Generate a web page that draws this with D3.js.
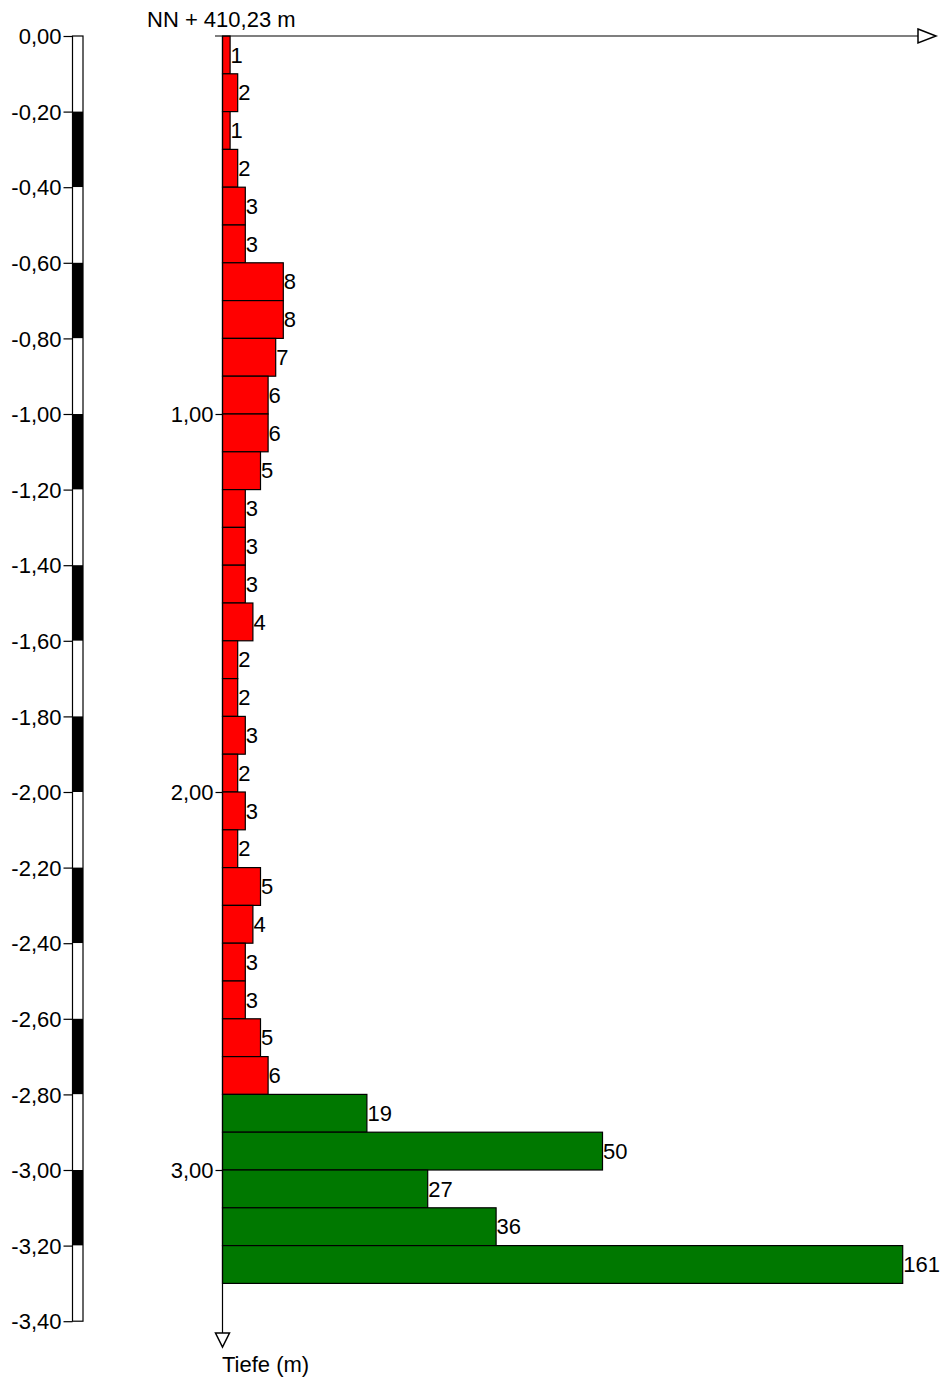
<!DOCTYPE html>
<html><head><meta charset="utf-8">
<script src="https://cdn.jsdelivr.net/npm/d3@7"></script>
<style>body{margin:0;background:#fff}svg{display:block}text{font-family:"Liberation Sans",Arial,sans-serif}</style>
</head><body><svg id="c" width="943" height="1377"></svg>
<script>
const redValues = [1,2,1,2,3,3,8,8,7,6,6,5,3,3,3,4,2,2,3,2,3,2,5,4,3,3,5,6];
const greenValues = [19,50,27,36,161];
const binSize = 0.1;
const scaleTicks = d3.range(0, 3.4001, 0.2);
const depthTicks = [1, 2, 3];
const datumLabel = "NN + 410,23 m";
const axisTitle = "Tiefe (m)";
const FS = 22;

const bars = redValues.map((v,i)=>({top:i*binSize, v, c:"#ff0000"}))
  .concat(greenValues.map((v,i)=>({top:(redValues.length+i)*binSize, v, c:"#007800"})));

const svg = d3.select("#c");
const y = d3.scaleLinear().domain([0, 3.4]).range([36, 36+3.4*378]);
const x = d3.scaleLinear().domain([0, 89.5]).range([222.5, 902.7]).clamp(true);
const fmt = d => d3.format(".2f")(d).replace(".", ",");

// left scale strip
const strip = svg.append("g");
const segs = d3.range(0, 17).map(i=>({a:i*0.2, b:(i+1)*0.2, black:i%2===1}));
strip.selectAll("rect").data(segs).join("rect")
  .attr("x", 72.5).attr("width", 10.5)
  .attr("y", d=>y(d.a)).attr("height", d=>y(d.b)-y(d.a))
  .attr("fill", d=>d.black?"#000":"#fff");
strip.append("rect").attr("x",72.5).attr("width",10.5).attr("y",y(0)).attr("height",y(3.4)-y(0))
  .attr("fill","none").attr("stroke","#000").attr("stroke-width",1.2);
const la = d3.axisLeft(y).tickValues(scaleTicks).tickFormat(d=> d===0 ? "0,00" : "-"+fmt(d)).tickSize(9).tickPadding(2);
const lg = svg.append("g").attr("transform","translate(72.5,0)").call(la);
lg.select(".domain").remove();
lg.selectAll("text").attr("font-size",FS).attr("fill","#000").attr("font-family","Liberation Sans, Arial, sans-serif").attr("dy","0.35em");
lg.selectAll("line").attr("stroke","#000").attr("stroke-width",1.2);

// bars
svg.append("g").selectAll("rect").data(bars).join("rect")
  .attr("x", x(0)).attr("y", d=>y(d.top))
  .attr("width", d=>x(d.v)-x(0)).attr("height", d=>y(d.top+binSize)-y(d.top))
  .attr("fill", d=>d.c).attr("stroke","#000").attr("stroke-width",1.2);
svg.append("g").selectAll("text").data(bars).join("text")
  .attr("x", d=>x(d.v)+0.5).attr("y", d=>y(d.top+binSize/2))
  .attr("dy","0.35em").attr("font-size",FS).attr("fill","#000")
  .text(d=>d.v);

// depth axis
const da = d3.axisLeft(y).tickValues(depthTicks).tickFormat(fmt).tickSize(7).tickPadding(2);
const dg = svg.append("g").attr("transform","translate(222.5,0)").call(da);
dg.select(".domain").remove();
dg.selectAll("text").attr("font-size",FS).attr("fill","#000").attr("font-family","Liberation Sans, Arial, sans-serif").attr("dy","0.35em");
dg.selectAll("line").attr("stroke","#000").attr("stroke-width",1.2);

// axis lines with arrows
svg.append("line").attr("x1",222.5).attr("x2",222.5).attr("y1",36).attr("y2",1333).attr("stroke","#000").attr("stroke-width",1.2);
svg.append("path").attr("d","M215.5,1333 L229.5,1333 L222.5,1347 Z").attr("fill","#fff").attr("stroke","#000").attr("stroke-width",1.5);
svg.append("line").attr("x1",215).attr("x2",918).attr("y1",36).attr("y2",36).attr("stroke","#000").attr("stroke-width",1.2);
svg.append("path").attr("d","M918,29 L936,36 L918,43 Z").attr("fill","#fff").attr("stroke","#000").attr("stroke-width",1.5);

svg.append("text").attr("x",147).attr("y",27).attr("font-size",FS).text(datumLabel);
svg.append("text").attr("x",222).attr("y",1372).attr("font-size",FS).text(axisTitle);
</script></body></html>
